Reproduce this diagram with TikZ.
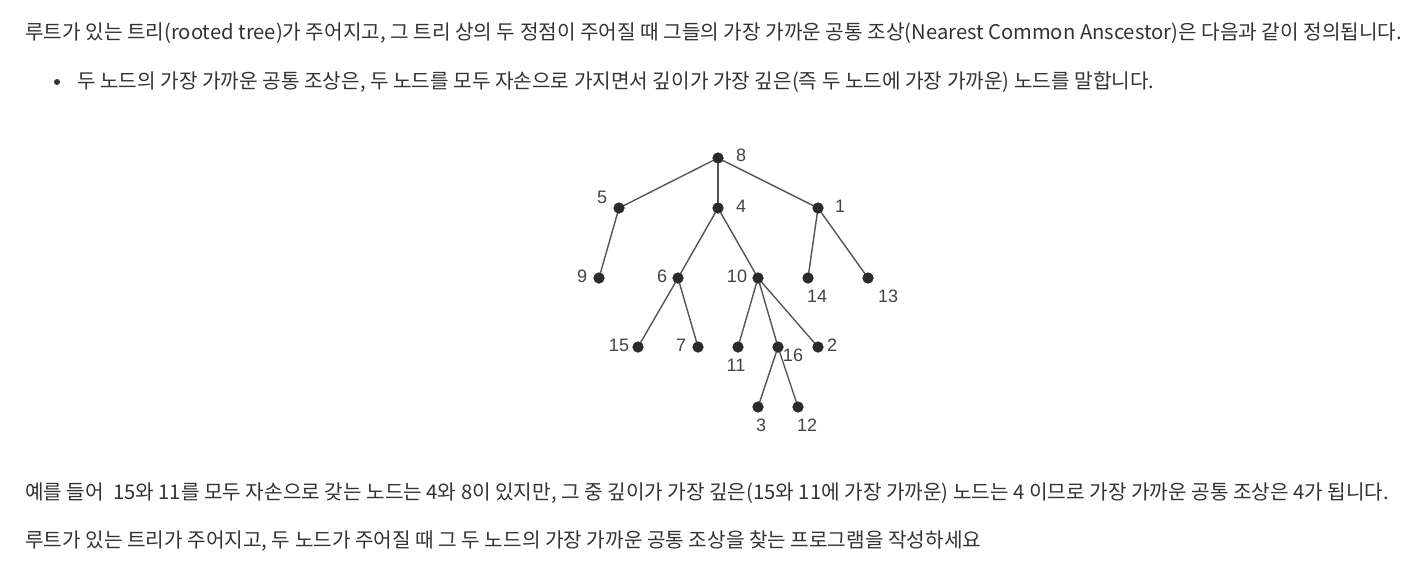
\documentclass[tikz,border=0pt]{standalone}
\usepackage{fontspec}
\newfontfamily\kr{Noto Sans CJK KR}
\newfontfamily\lab{Liberation Sans}
\definecolor{txt}{HTML}{333333}
\definecolor{edge}{HTML}{555555}
\definecolor{dotc}{HTML}{2B2B2B}
\definecolor{labc}{HTML}{444444}
\begin{document}
\begin{tikzpicture}[x=1pt,y=-1pt,
  line/.style={anchor=west,inner sep=0pt,text=txt,font=\kr\fontsize{20.2}{22}\selectfont},
  vtx/.style={circle,fill=dotc,minimum size=11pt,inner sep=0pt},
  vlab/.style={text=labc,font=\lab\fontsize{18}{20}\selectfont,inner sep=0pt},
  link/.style={draw=edge,line width=1.4pt}]
\useasboundingbox (0,0) rectangle (1421,571);
\fill[white] (0,0) rectangle (1421,571);
% text
\node[line] (t1) at (25,33) {루트가 있는 트리(rooted tree)가 주어지고, 그 트리 상의 두 정점이 주어질 때 그들의 가장 가까운 공통 조상(Nearest Common Anscestor)은 다음과 같이 정의됩니다.};
\fill[txt] (57,82) circle (3pt);
\node[line] (t2) at (77,82) {두 노드의 가장 가까운 공통 조상은, 두 노드를 모두 자손으로 가지면서 깊이가 가장 깊은(즉 두 노드에 가장 가까운) 노드를 말합니다.};
\node[line] (t3) at (25,493) {예를 들어~ 15와 11를 모두 자손으로 갖는 노드는 4와 8이 있지만, 그 중 깊이가 가장 깊은(15와 11에 가장 가까운) 노드는 4 이므로 가장 가까운 공통 조상은 4가 됩니다.};
\node[line] (t4) at (25,541) {루트가 있는 트리가 주어지고, 두 노드가 주어질 때 그 두 노드의 가장 가까운 공통 조상을 찾는 프로그램을 작성하세요};
% vertices
\node[vtx] (n8) at (718,158) {};
\node[vtx] (n5) at (619,208) {};
\node[vtx] (n4) at (718,208) {};
\node[vtx] (n1) at (818,208) {};
\node[vtx] (n9) at (599,278) {};
\node[vtx] (n6) at (678,278) {};
\node[vtx] (n10) at (758,278) {};
\node[vtx] (n14) at (808,278) {};
\node[vtx] (n13) at (868,278) {};
\node[vtx] (n15) at (638,347) {};
\node[vtx] (n7) at (698,347) {};
\node[vtx] (n11) at (738,347) {};
\node[vtx] (n16) at (778,347) {};
\node[vtx] (n2) at (818,347) {};
\node[vtx] (n3) at (758,407) {};
\node[vtx] (n12) at (798,407) {};
% edges
\draw[link] (n8.center) -- (n5.center);
\draw[link] (n8.center) -- (n4.center);
\draw[link] (n8.center) -- (n1.center);
\draw[link] (n5.center) -- (n9.center);
\draw[link] (n4.center) -- (n6.center);
\draw[link] (n4.center) -- (n10.center);
\draw[link] (n1.center) -- (n14.center);
\draw[link] (n1.center) -- (n13.center);
\draw[link] (n6.center) -- (n15.center);
\draw[link] (n6.center) -- (n7.center);
\draw[link] (n10.center) -- (n11.center);
\draw[link] (n10.center) -- (n16.center);
\draw[link] (n10.center) -- (n2.center);
\draw[link] (n16.center) -- (n3.center);
\draw[link] (n16.center) -- (n12.center);
% redraw dots on top
\foreach \n in {n8,n5,n4,n1,n9,n6,n10,n14,n13,n15,n7,n11,n16,n2,n3,n12}
  \fill[dotc] (\n.center) circle (5.5pt);
% labels
\node[vlab] (l8) at (741,155) {8};
\node[vlab] (l5) at (602,197) {5};
\node[vlab] (l4) at (741,206) {4};
\node[vlab] (l1) at (840,206) {1};
\node[vlab] (l9) at (582,276) {9};
\node[vlab] (l6) at (662,276) {6};
\node[vlab] (l10) at (737,276) {10};
\node[vlab] (l14) at (817,296) {14};
\node[vlab] (l13) at (888,296) {13};
\node[vlab] (l15) at (619,345) {15};
\node[vlab] (l7) at (681,345) {7};
\node[vlab] (l11) at (736,365) {11};
\node[vlab] (l16) at (793,355) {16};
\node[vlab] (l2) at (832,345) {2};
\node[vlab] (l3) at (761,425) {3};
\node[vlab] (l12) at (807,425) {12};
\end{tikzpicture}
\end{document}
